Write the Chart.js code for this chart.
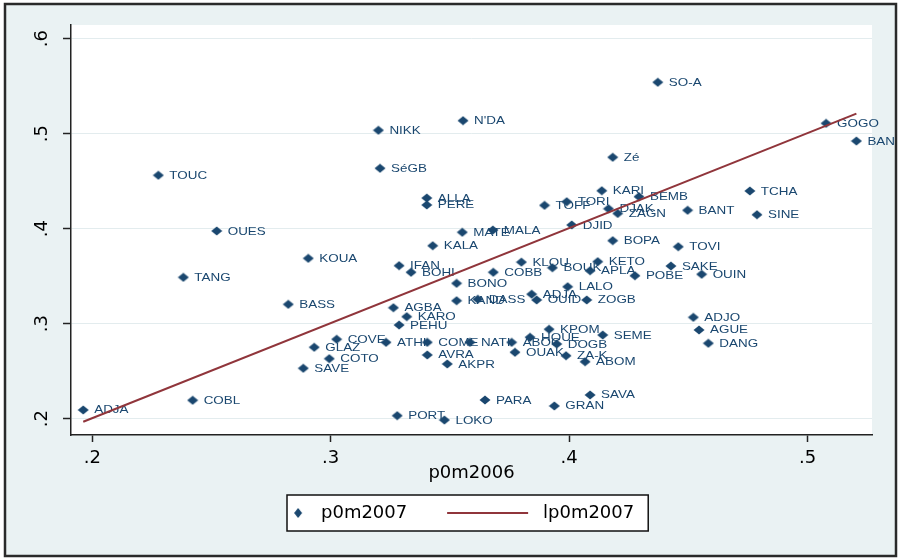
<!DOCTYPE html>
<html><head><meta charset="utf-8">
<script src="https://cdn.jsdelivr.net/npm/chart.js@4.4.1/dist/chart.umd.min.js"></script>
<style>html,body{margin:0;padding:0;background:#fff;}canvas{display:block;}</style>
</head><body>
<canvas id="c" width="899" height="558"></canvas>
<script>
// ---------------- data ----------------
const communes = ["ADJA","COBL","TOUC","OUES","TANG","KOUA","BASS","SAVE","GLAZ","COTO","COVE","NIKK","SéGB","AGBA","PEHU","KARO","IFAN","BOHI","PORT","ATHI","ALLA","PERE","KALA","COME","AVRA","AKPR","LOKO","BONO","KAND","N'DA","MATE","NATI","DASS","PARA","MALA","COBB","ABOC","OUAK","KLOU","HOUE","ADJA","OUID","TOFF","KPOM","BOUK","GRAN","DOGB","TORI","ZA-K","LALO","DJID","ABOM","ZOGB","APLA","SAVA","KETO","KARI","SEME","DJAK","ZAGN","BOPA","Zé","POBE","BEMB","SO-A","SAKE","TOVI","BANT","ADJO","AGUE","OUIN","DANG","TCHA","SINE","GOGO","BANI"];
const p0m2006 = [0.1962,0.2421,0.2277,0.2522,0.2382,0.2906,0.2822,0.2885,0.2931,0.2994,0.3025,0.3200,0.3207,0.3263,0.3287,0.3319,0.3287,0.3337,0.3279,0.3232,0.3403,0.3403,0.3428,0.3405,0.3405,0.3489,0.3477,0.3528,0.3528,0.3555,0.3552,0.3584,0.3617,0.3647,0.3680,0.3682,0.3759,0.3773,0.3800,0.3836,0.3843,0.3864,0.3897,0.3916,0.3930,0.3938,0.3948,0.3990,0.3987,0.3994,0.4011,0.4067,0.4074,0.4088,0.4088,0.4120,0.4137,0.4141,0.4165,0.4204,0.4183,0.4183,0.4276,0.4293,0.4372,0.4427,0.4458,0.4497,0.4521,0.4545,0.4556,0.4584,0.4758,0.4788,0.5078,0.5205];
const p0m2007 = [0.2092,0.2194,0.4562,0.3976,0.3488,0.3688,0.3204,0.2531,0.2752,0.2632,0.2836,0.5036,0.4636,0.3168,0.2986,0.3074,0.3611,0.3541,0.2032,0.2804,0.4323,0.4250,0.3821,0.2804,0.2671,0.2576,0.1986,0.3425,0.3242,0.5137,0.3962,0.2804,0.3257,0.2197,0.3986,0.3541,0.2804,0.2699,0.3648,0.2857,0.3310,0.3250,0.4246,0.2941,0.3589,0.2134,0.2786,0.4284,0.2663,0.3389,0.4039,0.2600,0.3250,0.3558,0.2250,0.3653,0.4400,0.2881,0.4210,0.4160,0.3874,0.4752,0.3505,0.4337,0.5541,0.3607,0.3810,0.4194,0.3067,0.2934,0.3520,0.2794,0.4397,0.4147,0.5109,0.4923];
const fitX = [0.1962, 0.5205];
const fitY = [0.1968, 0.5212];
const xTicks = [0.2, 0.3, 0.4, 0.5];
const yTicks = [0.2, 0.3, 0.4, 0.5, 0.6];
const seriesNames = ["p0m2007", "lp0m2007"];
const xTitle = "p0m2006";

// ---------------- style ----------------
const NAVY = '#1a476f', MAROON = '#90353b', BG = '#eaf2f3';
const FONT = 'DejaVu Sans';
const X_MIN = 0.19107, X_MAX = 0.52705, Y_MIN = 0.18284, Y_MAX = 0.61442;

function diamondCanvas(w, h, cx) {
  const c = document.createElement('canvas'); c.width = w; c.height = h;
  const g = c.getContext('2d'); g.fillStyle = NAVY;
  g.beginPath(); g.moveTo(cx - 5.5, h / 2); g.lineTo(cx, h / 2 - 4.6); g.lineTo(cx + 5.5, h / 2); g.lineTo(cx, h / 2 + 4.6); g.closePath(); g.fill();
  return c;
}
const markerImg = diamondCanvas(12, 10, 6);

const mctx = document.createElement('canvas').getContext('2d');
mctx.font = '18px "' + FONT + '"';
const w1 = mctx.measureText(seriesNames[0]).width;
const w2 = mctx.measureText(seriesNames[1]).width;
const LEG_PAD = 10, TEXT1 = 321, TEXT2 = 543;
const BOXW = TEXT2 - TEXT1 - w1 - 9 - LEG_PAD;
const legDiamond = (function () {
  const W = Math.round(BOXW - 14);
  const c = document.createElement('canvas'); c.width = W; c.height = 12;
  const g = c.getContext('2d'); g.fillStyle = NAVY;
  const cx = W - 7;
  g.beginPath(); g.moveTo(cx - 4, 6); g.lineTo(cx, 1); g.lineTo(cx + 4, 6); g.lineTo(cx, 11); g.closePath(); g.fill();
  return c;
})();
const legLine = (function () {
  const W = Math.round(BOXW);
  const c = document.createElement('canvas'); c.width = W; c.height = 4;
  const g = c.getContext('2d'); g.strokeStyle = MAROON; g.lineWidth = 1.8;
  g.beginPath(); g.moveTo(W - 87, 2); g.lineTo(W - 6, 2); g.stroke();
  return c;
})();

const fmt = v => (+v).toFixed(1).replace(/^0/, '');

const bgPlugin = {
  id: 'bg',
  beforeDraw(chart) {
    const ctx = chart.ctx, a = chart.chartArea;
    ctx.save();
    ctx.fillStyle = '#fff'; ctx.fillRect(0, 0, 899, 558);
    ctx.fillStyle = BG; ctx.fillRect(5, 4, 891, 552);
    ctx.fillStyle = '#fff'; ctx.fillRect(a.left, a.top, a.right - a.left, a.bottom - a.top);
    const lg = chart.legend;
    const cy = lg.top + LEG_PAD + 9;
    const bx0 = TEXT1 - 34, bx1 = TEXT2 + w2 + 14;
    ctx.fillRect(bx0, cy - 18, bx1 - bx0, 36);
    ctx.strokeStyle = '#111'; ctx.lineWidth = 1.5;
    ctx.strokeRect(bx0, cy - 18, bx1 - bx0, 36);
    ctx.strokeStyle = '#2a2a2a'; ctx.lineWidth = 2.5;
    ctx.strokeRect(5, 4, 891, 552);
    ctx.restore();
  }
};
const legendShift = {
  id: 'legendShift',
  afterLayout(chart) {
    const lg = chart.legend; if (!lg || !lg.lineWidths) return;
    const cur = (lg.left + LEG_PAD + lg.right - lg.lineWidths[0]) / 2;
    const want = TEXT1 - BOXW - 9;
    const s = want - cur;
    lg.left += s; lg.right += s;
  }
};
const labelPlugin = {
  id: 'pointLabels',
  afterDatasetDraw(chart, args) {
    if (args.index !== 0) return;
    const ctx = chart.ctx;
    ctx.save();
    ctx.beginPath(); ctx.rect(6, 5, 888, 549); ctx.clip();
    ctx.font = '11px "Liberation Sans"';
    ctx.fillStyle = NAVY; ctx.textBaseline = 'middle'; ctx.textAlign = 'left';
    args.meta.data.forEach((pt, i) => {
      ctx.save(); ctx.translate(pt.x + 11, pt.y + 0.5); ctx.scale(1.22, 1);
      ctx.fillText(communes[i], 0, 0); ctx.restore();
    });
    ctx.restore();
  }
};

new Chart(document.getElementById('c'), {
  type: 'scatter',
  data: {
    datasets: [
      { type: 'scatter', label: seriesNames[0], order: 2,
        data: p0m2006.map((x, i) => ({ x: x, y: p0m2007[i] })),
        pointStyle: markerImg, pointRadius: 5, backgroundColor: NAVY, borderColor: NAVY },
      { type: 'line', label: seriesNames[1], order: 1,
        data: fitX.map((x, i) => ({ x: x, y: fitY[i] })),
        borderColor: MAROON, backgroundColor: MAROON, borderWidth: 2, pointRadius: 0, fill: false, showLine: true }
    ]
  },
  options: {
    responsive: false, animation: false, devicePixelRatio: 1,
    layout: { padding: { left: 0, right: 27, top: 25, bottom: 26 } },
    plugins: {
      tooltip: { enabled: false },
      legend: {
        position: 'bottom',
        labels: {
          usePointStyle: true, pointStyleWidth: BOXW, padding: LEG_PAD,
          font: { family: FONT, size: 18 }, color: '#000',
          sort: (a, b) => a.datasetIndex - b.datasetIndex,
          generateLabels(chart) {
            const items = Chart.defaults.plugins.legend.labels.generateLabels(chart);
            items.forEach(it => { it.pointStyle = it.datasetIndex === 0 ? legDiamond : legLine; });
            return items;
          }
        }
      }
    },
    scales: {
      x: {
        type: 'linear', min: X_MIN, max: X_MAX,
        afterBuildTicks: s => { s.ticks = xTicks.map(v => ({ value: v })); },
        afterFit: s => { s.height = 59; },
        ticks: { callback: fmt, font: { family: FONT, size: 18 }, color: '#000', padding: 6, maxRotation: 0, autoSkip: false },
        grid: { drawOnChartArea: false, drawTicks: true, tickLength: 7, tickColor: '#222', tickWidth: 1.5 },
        border: { display: true, color: '#222', width: 1.5 },
        title: { display: true, text: xTitle, font: { family: FONT, size: 18 }, color: '#000', padding: { top: 0, bottom: 10 } }
      },
      y: {
        type: 'linear', min: Y_MIN, max: Y_MAX,
        afterBuildTicks: s => { s.ticks = yTicks.map(v => ({ value: v })); },
        afterFit: s => { s.width = 71; },
        ticks: { callback: fmt, font: { family: FONT, size: 18 }, color: '#000', padding: 12, minRotation: 90, maxRotation: 90, crossAlign: 'center', autoSkip: false },
        grid: { color: '#e3ecee', lineWidth: 1, drawTicks: true, tickLength: 8, tickColor: '#222', tickWidth: 1.5 },
        border: { display: true, color: '#222', width: 1.5 }
      }
    }
  },
  plugins: [bgPlugin, legendShift, labelPlugin]
});
</script>
</body></html>
